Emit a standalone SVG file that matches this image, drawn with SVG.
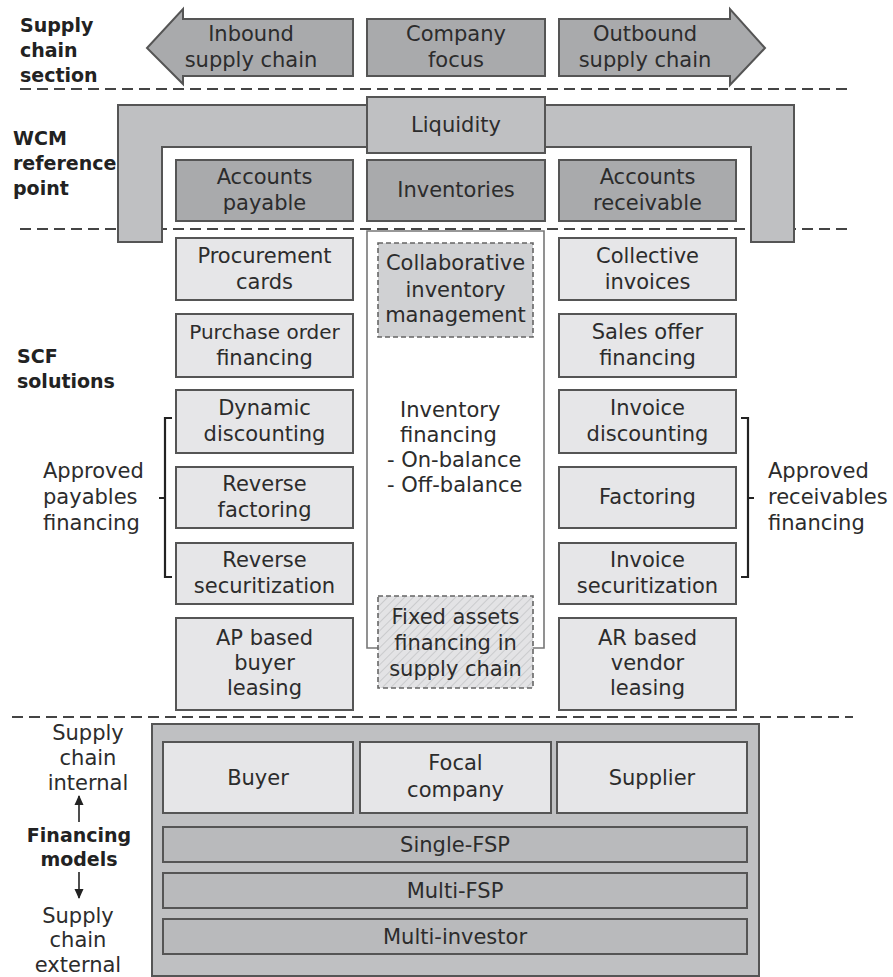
<svg xmlns="http://www.w3.org/2000/svg" width="893" height="977" viewBox="0 0 893 977">
  <defs>
    <style>
      text { font-family: "DejaVu Sans", "Liberation Sans", sans-serif; fill: #2c2c2c; }
      .t { font-size: 21px; text-anchor: middle; }
      .side { font-size: 21px; }
      .head { font-size: 19px; font-weight: bold; fill: #222; }
      .dark { fill: #a9aaac; stroke: #555; stroke-width: 2; }
      .mid { fill: #bfc0c2; stroke: #555; stroke-width: 2; }
      .light { fill: #e6e6e8; stroke: #555; stroke-width: 2; }
      .band { fill: #b9babc; stroke: #555; stroke-width: 2; }
      .dashbox { stroke: #666; stroke-width: 1.6; stroke-dasharray: 5 3; }
      .sep { stroke: #444; stroke-width: 2; stroke-dasharray: 11 6; fill: none; }
      .frame { fill: none; stroke: #777; stroke-width: 1.6; }
      .brace { fill: none; stroke: #222; stroke-width: 2.2; }
    </style>
    <pattern id="hatch" width="6" height="6" patternUnits="userSpaceOnUse" patternTransform="rotate(45)">
      <rect width="6" height="6" fill="#e3e3e5"/>
      <line x1="0" y1="0" x2="0" y2="6" stroke="#cacbcd" stroke-width="2"/>
    </pattern>
    <marker id="ah" viewBox="0 0 10 10" refX="9" refY="5" markerWidth="10" markerHeight="10" markerUnits="userSpaceOnUse" orient="auto">
      <path d="M0,0.5 L10,5 L0,9.5 z" fill="#222"/>
    </marker>
  </defs>

  <!-- section separators -->
  <g id="separators">
    <line class="sep" x1="20" y1="89" x2="853" y2="89"/>
    <line class="sep" x1="20" y1="229" x2="853" y2="229"/>
    <line class="sep" x1="12" y1="717" x2="853" y2="717"/>
  </g>

  <!-- row headings -->
  <g id="headings">
    <text class="head" x="20" y="32">Supply</text>
    <text class="head" x="20" y="57">chain</text>
    <text class="head" x="20" y="82">section</text>
    <text class="head" x="13" y="145">WCM</text>
    <text class="head" x="13" y="170">reference</text>
    <text class="head" x="13" y="195">point</text>
    <text class="head" x="17" y="363">SCF</text>
    <text class="head" x="17" y="388">solutions</text>
  </g>

  <!-- supply chain section -->
  <g id="inbound">
    <path class="dark" d="M353,19 H183 V9 L147,48 L183,84 V76 H353 Z"/>
    <text class="t" x="251" y="41">Inbound</text>
    <text class="t" x="251" y="67">supply chain</text>
  </g>
  <g id="company-focus">
    <rect class="dark" x="367" y="19" width="178" height="57"/>
    <text class="t" x="456" y="41">Company</text>
    <text class="t" x="456" y="67">focus</text>
  </g>
  <g id="outbound">
    <path class="dark" d="M559,19 H730 V9 L765,48 L730,85 V76 H559 Z"/>
    <text class="t" x="645" y="41">Outbound</text>
    <text class="t" x="645" y="67">supply chain</text>
  </g>

  <!-- WCM reference point -->
  <g id="wcm-frame">
    <path class="mid" d="M118,105 H794 V242 H751 V147 H162 V242 H118 Z"/>
  </g>
  <g id="liquidity">
    <rect class="mid" x="367" y="97" width="178" height="56"/>
    <text class="t" x="456" y="132">Liquidity</text>
  </g>
  <g id="accounts-payable">
    <rect class="dark" x="176" y="160" width="177" height="61"/>
    <text class="t" x="264.5" y="184">Accounts</text>
    <text class="t" x="264.5" y="210">payable</text>
  </g>
  <g id="inventories">
    <rect class="dark" x="367" y="160" width="178" height="61"/>
    <text class="t" x="456" y="197">Inventories</text>
  </g>
  <g id="accounts-receivable">
    <rect class="dark" x="559" y="160" width="177" height="61"/>
    <text class="t" x="647.5" y="184">Accounts</text>
    <text class="t" x="647.5" y="210">receivable</text>
  </g>

  <!-- connectors: inventory column frame, braces and axis arrows -->
  <g id="connectors">
    <path class="frame" d="M378,648 H367 V231 H544 V648 H533"/>
    <path class="brace" d="M172,418 H165 V577 H172 M165,498 H159"/>
    <path class="brace" d="M741,418 H748 V577 H741 M748,498 H754"/>
    <line x1="79" y1="822" x2="79" y2="796" stroke="#222" stroke-width="1.6" marker-end="url(#ah)"/>
    <line x1="79" y1="872" x2="79" y2="898" stroke="#222" stroke-width="1.6" marker-end="url(#ah)"/>
  </g>

  <!-- SCF solutions: payables side -->
  <g id="procurement-cards">
    <rect class="light" x="176" y="238" width="177" height="62"/>
    <text class="t" x="264.5" y="263">Procurement</text>
    <text class="t" x="264.5" y="289">cards</text>
  </g>
  <g id="purchase-order-financing">
    <rect class="light" x="176" y="314" width="177" height="63"/>
    <text class="t" x="264.5" y="339" style="font-size:20px">Purchase order</text>
    <text class="t" x="264.5" y="365">financing</text>
  </g>
  <g id="dynamic-discounting">
    <rect class="light" x="176" y="390" width="177" height="63"/>
    <text class="t" x="264.5" y="415">Dynamic</text>
    <text class="t" x="264.5" y="441">discounting</text>
  </g>
  <g id="reverse-factoring">
    <rect class="light" x="176" y="467" width="177" height="61"/>
    <text class="t" x="264.5" y="491">Reverse</text>
    <text class="t" x="264.5" y="517">factoring</text>
  </g>
  <g id="reverse-securitization">
    <rect class="light" x="176" y="543" width="177" height="61"/>
    <text class="t" x="264.5" y="567">Reverse</text>
    <text class="t" x="264.5" y="593">securitization</text>
  </g>
  <g id="ap-based-buyer-leasing">
    <rect class="light" x="176" y="618" width="177" height="92"/>
    <text class="t" x="264.5" y="645">AP based</text>
    <text class="t" x="264.5" y="670">buyer</text>
    <text class="t" x="264.5" y="695">leasing</text>
  </g>

  <!-- SCF solutions: inventory column -->
  <g id="collaborative-inventory">
    <rect class="dashbox" x="378" y="243" width="155" height="94" fill="#d0d1d3"/>
    <text class="t" x="455.5" y="270">Collaborative</text>
    <text class="t" x="455.5" y="297">inventory</text>
    <text class="t" x="455.5" y="322">management</text>
  </g>
  <g id="inventory-financing">
    <text class="side" x="400" y="417">Inventory</text>
    <text class="side" x="400" y="442">financing</text>
    <text class="side" x="387" y="467">- On-balance</text>
    <text class="side" x="387" y="492">- Off-balance</text>
  </g>
  <g id="fixed-assets">
    <rect class="dashbox" x="378" y="596" width="155" height="92" fill="url(#hatch)"/>
    <text class="t" x="455.5" y="624">Fixed assets</text>
    <text class="t" x="455.5" y="650">financing in</text>
    <text class="t" x="455.5" y="676">supply chain</text>
  </g>

  <!-- SCF solutions: receivables side -->
  <g id="collective-invoices">
    <rect class="light" x="559" y="238" width="177" height="62"/>
    <text class="t" x="647.5" y="263">Collective</text>
    <text class="t" x="647.5" y="289">invoices</text>
  </g>
  <g id="sales-offer-financing">
    <rect class="light" x="559" y="314" width="177" height="63"/>
    <text class="t" x="647.5" y="339">Sales offer</text>
    <text class="t" x="647.5" y="365">financing</text>
  </g>
  <g id="invoice-discounting">
    <rect class="light" x="559" y="390" width="177" height="63"/>
    <text class="t" x="647.5" y="415">Invoice</text>
    <text class="t" x="647.5" y="441">discounting</text>
  </g>
  <g id="factoring">
    <rect class="light" x="559" y="467" width="177" height="61"/>
    <text class="t" x="647.5" y="504">Factoring</text>
  </g>
  <g id="invoice-securitization">
    <rect class="light" x="559" y="543" width="177" height="61"/>
    <text class="t" x="647.5" y="567">Invoice</text>
    <text class="t" x="647.5" y="593">securitization</text>
  </g>
  <g id="ar-based-vendor-leasing">
    <rect class="light" x="559" y="618" width="177" height="92"/>
    <text class="t" x="647.5" y="645">AR based</text>
    <text class="t" x="647.5" y="670">vendor</text>
    <text class="t" x="647.5" y="695">leasing</text>
  </g>

  <!-- brace labels -->
  <g id="approved-payables">
    <text class="side" x="43" y="478">Approved</text>
    <text class="side" x="43" y="504">payables</text>
    <text class="side" x="43" y="530">financing</text>
  </g>
  <g id="approved-receivables">
    <text class="side" x="768" y="478">Approved</text>
    <text class="side" x="768" y="504">receivables</text>
    <text class="side" x="768" y="530">financing</text>
  </g>

  <!-- financing models -->
  <g id="financing-axis">
    <text class="t" x="88" y="740">Supply</text>
    <text class="t" x="88" y="765">chain</text>
    <text class="t" x="88" y="790">internal</text>
    <text class="head" x="79" y="842" text-anchor="middle">Financing</text>
    <text class="head" x="79" y="866" text-anchor="middle">models</text>
    <text class="t" x="78" y="923">Supply</text>
    <text class="t" x="78" y="947">chain</text>
    <text class="t" x="78" y="972">external</text>
  </g>
  <g id="models-panel">
    <rect class="mid" x="152" y="724" width="607" height="252"/>
  </g>
  <g id="buyer">
    <rect class="light" x="163" y="742" width="190" height="71"/>
    <text class="t" x="258" y="785">Buyer</text>
  </g>
  <g id="focal-company">
    <rect class="light" x="360" y="742" width="191" height="71"/>
    <text class="t" x="455.5" y="770">Focal</text>
    <text class="t" x="455.5" y="797">company</text>
  </g>
  <g id="supplier">
    <rect class="light" x="557" y="742" width="190" height="71"/>
    <text class="t" x="652" y="785">Supplier</text>
  </g>
  <g id="single-fsp">
    <rect class="band" x="163" y="827" width="584" height="35"/>
    <text class="t" x="455" y="852">Single-FSP</text>
  </g>
  <g id="multi-fsp">
    <rect class="band" x="163" y="873" width="584" height="35"/>
    <text class="t" x="455" y="898">Multi-FSP</text>
  </g>
  <g id="multi-investor">
    <rect class="band" x="163" y="919" width="584" height="35"/>
    <text class="t" x="455" y="944">Multi-investor</text>
  </g>
</svg>
